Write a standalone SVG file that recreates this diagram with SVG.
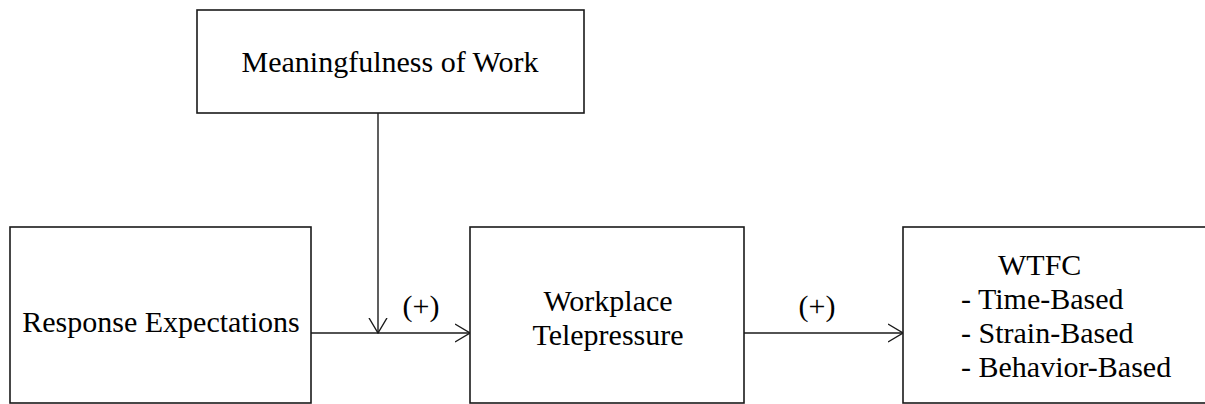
<svg xmlns="http://www.w3.org/2000/svg" width="1205" height="404" viewBox="0 0 1205 404">
<style>
.box{fill:#fff;stroke:#1a1a1a;stroke-width:1.6}
.t{font-family:'Liberation Serif', 'DejaVu Serif', serif;font-size:30px;fill:#000}
.c{text-anchor:middle}
.ln{fill:none;stroke:#1a1a1a;stroke-width:1.4}
</style>
<defs>
<marker id="arr" viewBox="0 0 16 20" refX="15" refY="10" markerWidth="16" markerHeight="20" markerUnits="userSpaceOnUse" orient="auto">
<path d="M0,1 L15,10 L0,19" fill="none" stroke="#1a1a1a" stroke-width="1.4"/>
</marker>
</defs>
<rect width="1205" height="404" fill="#fff"/>
<g id="connectors">
<line class="ln" x1="378" y1="113" x2="378" y2="333" marker-end="url(#arr)"/>
<line class="ln" x1="311" y1="333" x2="470" y2="333" marker-end="url(#arr)"/>
<line class="ln" x1="744" y1="333" x2="903" y2="333" marker-end="url(#arr)"/>
<text class="t c" x="421" y="316">(+)</text>
<text class="t c" x="817" y="316">(+)</text>
</g>
<g id="meaningfulness">
<rect class="box" x="197" y="10" width="387" height="103"/>
<text class="t c" x="390" y="72">Meaningfulness of Work</text>
</g>
<g id="response">
<rect class="box" x="10" y="227" width="301" height="176"/>
<text class="t c" x="161" y="332">Response Expectations</text>
</g>
<g id="telepressure">
<rect class="box" x="470" y="227" width="274" height="176"/>
<text class="t c" x="608" y="311">Workplace</text>
<text class="t c" x="608" y="345">Telepressure</text>
</g>
<g id="wtfc">
<rect class="box" x="903" y="227" width="320" height="176"/>
<text class="t" x="998" y="275">WTFC</text>
<text class="t" x="961" y="309">- Time-Based</text>
<text class="t" x="961" y="343">- Strain-Based</text>
<text class="t" x="961" y="377">- Behavior-Based</text>
</g>
</svg>
